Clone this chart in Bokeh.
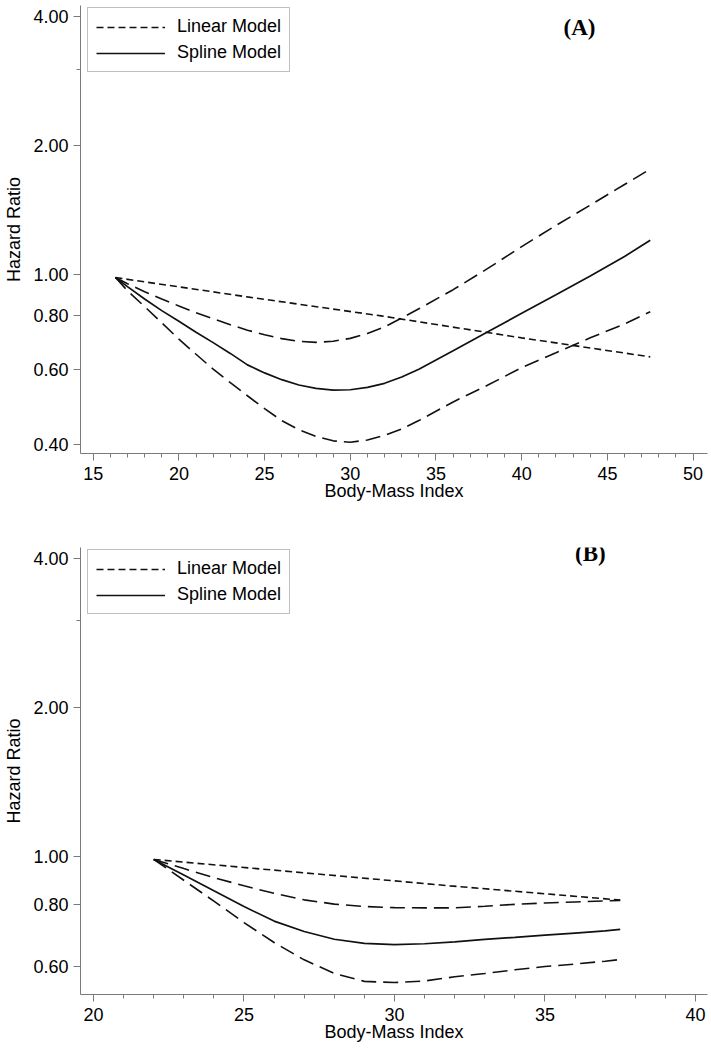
from bokeh.plotting import figure
from bokeh.models import (FixedTicker, PrintfTickFormatter, Legend, LegendItem,
                          Label, Range1d)
from bokeh.layouts import column
from bokeh.embed import file_html
from bokeh.resources import INLINE

# ---------------- Panel A data ----------------
a_bmi = [16.3, 17, 18, 19, 20, 21, 22, 23, 24, 25, 26, 27, 28, 29, 30, 31, 32,
         33, 34, 36, 38, 40, 42, 44, 46, 47.5]
a_spline = [0.982, 0.935, 0.875, 0.822, 0.776, 0.732, 0.692, 0.653, 0.614, 0.588,
            0.567, 0.551, 0.541, 0.536, 0.537, 0.544, 0.556, 0.575, 0.60, 0.662,
            0.733, 0.81, 0.895, 0.99, 1.10, 1.20]
a_upper = [0.982, 0.95, 0.91, 0.875, 0.843, 0.813, 0.787, 0.762, 0.74, 0.722,
           0.707, 0.697, 0.693, 0.697, 0.708, 0.727, 0.753, 0.79, 0.83, 0.92,
           1.03, 1.16, 1.30, 1.45, 1.62, 1.76]
a_lower = [0.982, 0.915, 0.84, 0.77, 0.705, 0.65, 0.60, 0.558, 0.52, 0.485,
           0.455, 0.433, 0.418, 0.408, 0.405, 0.41, 0.42, 0.435, 0.455, 0.503,
           0.55, 0.605, 0.655, 0.71, 0.765, 0.817]
a_lin_bmi = [16.3, 24, 31.8, 40, 47.5]
a_linear = [0.982, 0.885, 0.799, 0.71, 0.641]

# ---------------- Panel B data ----------------
b_bmi = [22, 23, 24, 25, 26, 27, 28, 29, 30, 31, 32, 33, 34, 35, 36, 37, 37.5]
b_spline = [0.986, 0.917, 0.852, 0.792, 0.74, 0.705, 0.68, 0.667, 0.663, 0.666,
            0.672, 0.68, 0.686, 0.693, 0.70, 0.707, 0.712]
b_upper = [0.986, 0.945, 0.906, 0.872, 0.842, 0.817, 0.801, 0.792, 0.788, 0.787,
           0.787, 0.793, 0.80, 0.805, 0.809, 0.813, 0.815]
b_lower = [0.986, 0.895, 0.812, 0.735, 0.67, 0.618, 0.58, 0.559, 0.556, 0.56,
           0.571, 0.58, 0.59, 0.599, 0.606, 0.614, 0.619]
b_lin_bmi = [22, 31.85, 37.5]
b_linear = [0.986, 0.872, 0.816]

a_xticks = [15, 20, 25, 30, 35, 40, 45, 50]
a_xminor = list(range(15, 51))
a_yticks = [0.4, 0.6, 0.8, 1.0, 2.0, 4.0]
b_xticks = [20, 25, 30, 35, 40]
b_xminor = list(range(20, 41))
b_yticks = [0.6, 0.8, 1.0, 2.0, 4.0]
y_minor = [3.0]

FONT = "Liberation Sans"
AX = "#7a7a7a"
INK = "#111111"


def panel(height, xr, yr, xt, xm, yt, bmi, spl, up, lo, lbmi, lin, tag, tag_xy,
          mb_top, mb_bottom, leg_y):
    p = figure(width=710, height=height, y_axis_type="log",
               x_range=Range1d(*xr), y_range=Range1d(*yr),
               output_backend="svg", toolbar_location=None,
               min_border_left=80, min_border_right=3,
               min_border_top=mb_top, min_border_bottom=mb_bottom)
    p.outline_line_color = None
    p.xgrid.visible = False
    p.ygrid.visible = False
    p.background_fill_color = "white"
    p.border_fill_color = "white"

    r_up = p.line(bmi, up, line_color=INK, line_width=1.6, line_dash="15 7")
    r_lo = p.line(bmi, lo, line_color=INK, line_width=1.6, line_dash="15 7")
    r_spl = p.line(bmi, spl, line_color=INK, line_width=1.7)
    r_lin = p.line(lbmi, lin, line_color=INK, line_width=1.6, line_dash="7 4")

    p.xaxis.ticker = FixedTicker(ticks=xt, minor_ticks=xm)
    p.yaxis.ticker = FixedTicker(ticks=yt, minor_ticks=y_minor)
    p.yaxis.formatter = PrintfTickFormatter(format="%.2f")

    for ax in (p.xaxis, p.yaxis):
        ax.axis_line_color = AX
        ax.major_tick_line_color = AX
        ax.minor_tick_line_color = AX
        ax.major_tick_in = 0
        ax.major_tick_out = 7
        ax.minor_tick_in = 0
        ax.minor_tick_out = 4
        ax.major_label_text_font = FONT
        ax.major_label_text_font_size = "18px"
        ax.major_label_text_color = "#000000"
        ax.axis_label_text_font = FONT
        ax.axis_label_text_font_size = "18px"
        ax.axis_label_text_font_style = "normal"
        ax.axis_label_text_color = "#000000"
    p.xaxis.axis_label = "Body-Mass Index"
    p.yaxis.axis_label = "Hazard Ratio"
    p.xaxis.major_label_standoff = 6
    p.xaxis.axis_label_standoff = -2
    p.yaxis.major_label_standoff = 5
    p.yaxis.axis_label_standoff = 6

    leg = Legend(items=[LegendItem(label="Linear Model", renderers=[r_lin]),
                        LegendItem(label="Spline Model", renderers=[r_spl])],
                 location=(7, leg_y), margin=0, padding=8, spacing=5,
                 glyph_width=69, glyph_height=20, label_height=20,
                 label_standoff=12, label_text_font=FONT,
                 label_text_font_size="18px", label_text_color="#000000",
                 border_line_color="#808080", border_line_width=1,
                 background_fill_color="white", background_fill_alpha=1.0)
    p.add_layout(leg)

    p.add_layout(Label(x=tag_xy[0], y=tag_xy[1], text=tag,
                       text_font="Liberation Serif", text_font_style="bold",
                       text_font_size="23px", text_color="#000000",
                       text_align="center", text_baseline="middle"))
    return p


p1 = panel(520, (14.26, 50.84), (0.38116, 4.2428), a_xticks, a_xminor, a_yticks,
           a_bmi, a_spline, a_upper, a_lower, a_lin_bmi, a_linear,
           "(A)", (43.37, 3.76), 5, 67, 381)
p2 = panel(528, (19.568, 40.40), (0.5259, 4.2103), b_xticks, b_xminor, b_yticks,
           b_bmi, b_spline, b_upper, b_lower, b_lin_bmi, b_linear,
           "(B)", (36.51, 4.10), 27, 54, 380)

layout = column(p1, p2, spacing=0)
open("out.html", "w").write(file_html(layout, INLINE))
